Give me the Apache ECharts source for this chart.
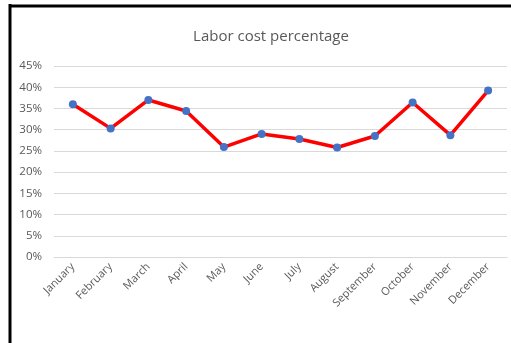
<!DOCTYPE html>
<html>
<head>
<meta charset="utf-8">
<script src="https://cdn.jsdelivr.net/npm/echarts@6/dist/echarts.min.js"></script>
<style>html,body{margin:0;padding:0;background:#fff}#c{width:511px;height:343px}</style>
</head>
<body>
<div id="c"></div>
<script>
const months = ['January','February','March','April','May','June','July','August','September','October','November','December'];
const laborPct = [36.0, 30.3, 37.0, 34.4, 25.9, 29.0, 27.8, 25.8, 28.5, 36.4, 28.7, 39.2];
const yTicks = [0, 5, 10, 15, 20, 25, 30, 35, 40, 45];

const chart = echarts.init(document.getElementById('c'), null, {renderer: 'canvas'});
chart.setOption({
  animation: false,
  backgroundColor: '#fff',
  title: {
    text: 'Labor cost percentage',
    left: 266, top: 24, textAlign: 'center',
    textStyle: {fontFamily: 'Open Sans', fontSize: 15, fontWeight: 'normal', color: '#595959'}
  },
  graphic: [
    {type: 'line', shape: {x1: 10, y1: 4, x2: 10, y2: 343}, style: {stroke: '#000', lineWidth: 3}},
    {type: 'line', shape: {x1: 9, y1: 6, x2: 511, y2: 6}, style: {stroke: '#000', lineWidth: 3}}
  ],
  grid: {left: 54, right: 4, top: 66, bottom: 86},
  xAxis: {
    type: 'category', data: months, boundaryGap: true,
    axisLine: {show: true, lineStyle: {color: '#d9d9d9'}},
    axisTick: {show: false},
    axisLabel: {rotate: 45, margin: 8, color: '#595959', fontFamily: 'Open Sans', fontSize: 11, interval: 0}
  },
  yAxis: {
    type: 'value', min: yTicks[0], max: yTicks[yTicks.length - 1], interval: 5,
    axisLine: {show: false}, axisTick: {show: false},
    splitLine: {lineStyle: {color: '#d9d9d9', width: 1}},
    axisLabel: {formatter: v => v + '%', color: '#595959', fontFamily: 'Open Sans', fontSize: 11.5, margin: 12}
  },
  series: [{
    type: 'line', data: laborPct,
    symbol: 'circle', symbolSize: 8,
    lineStyle: {color: '#ff0000', width: 3.5},
    itemStyle: {color: '#4472c4'}
  }]
});
</script>
</body>
</html>
